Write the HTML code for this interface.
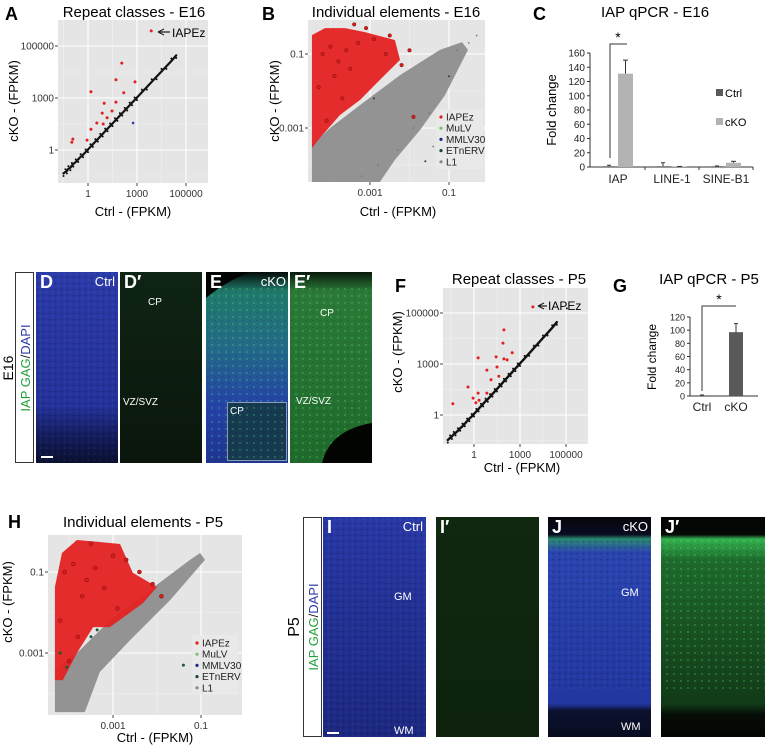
<!DOCTYPE html>
<html><head><meta charset="utf-8">
<style>
html,body{margin:0;padding:0;background:#fff;}
svg{display:block;font-family:"Liberation Sans",sans-serif;}
</style></head>
<body>
<svg id="fig" width="765" height="746" viewBox="0 0 765 746" xmlns="http://www.w3.org/2000/svg">
<defs>
  <linearGradient id="gD" x1="0" y1="0" x2="0" y2="1"><stop offset="0" stop-color="#2a3aa8"/><stop offset="0.7" stop-color="#24329a"/><stop offset="0.85" stop-color="#141e60"/><stop offset="1" stop-color="#0a1030"/></linearGradient>
  <linearGradient id="gDp" x1="0" y1="0" x2="0" y2="1"><stop offset="0" stop-color="#0f2414"/><stop offset="1" stop-color="#0a160c"/></linearGradient>
  <linearGradient id="gE" x1="0" y1="0" x2="0" y2="1"><stop offset="0" stop-color="#050a08"/><stop offset="0.1" stop-color="#1f7a6a"/><stop offset="0.4" stop-color="#236a88"/><stop offset="0.7" stop-color="#2442a8"/><stop offset="1" stop-color="#1f3590"/></linearGradient>
  <linearGradient id="gEp" x1="0" y1="0" x2="0" y2="1"><stop offset="0" stop-color="#0a180c"/><stop offset="0.1" stop-color="#2b7a38"/><stop offset="1" stop-color="#1f6a2c"/></linearGradient>
  <linearGradient id="gI" x1="0" y1="0" x2="0" y2="1"><stop offset="0" stop-color="#2838a6"/><stop offset="1" stop-color="#1c2880"/></linearGradient>
  <linearGradient id="gIp" x1="0" y1="0" x2="0" y2="1"><stop offset="0" stop-color="#10280f"/><stop offset="1" stop-color="#0e220e"/></linearGradient>
  <linearGradient id="gJ" x1="0" y1="0" x2="0" y2="1"><stop offset="0" stop-color="#05060c"/><stop offset="0.08" stop-color="#0a0c20"/><stop offset="0.1" stop-color="#2a8a70"/><stop offset="0.16" stop-color="#2a44b0"/><stop offset="0.85" stop-color="#2236a0"/><stop offset="0.88" stop-color="#0c1230"/><stop offset="1" stop-color="#080c20"/></linearGradient>
  <linearGradient id="gJp" x1="0" y1="0" x2="0" y2="1"><stop offset="0" stop-color="#030503"/><stop offset="0.08" stop-color="#050805"/><stop offset="0.1" stop-color="#34b050"/><stop offset="0.2" stop-color="#1e6a2c"/><stop offset="0.85" stop-color="#123a18"/><stop offset="0.9" stop-color="#060c06"/><stop offset="1" stop-color="#040604"/></linearGradient>
  <pattern id="speck" width="6" height="6" patternUnits="userSpaceOnUse"><circle cx="1.5" cy="1.5" r="0.9" fill="#000" opacity="0.25"/><circle cx="4.5" cy="4" r="0.8" fill="#fff" opacity="0.08"/></pattern>
  <pattern id="gspeck" width="7" height="7" patternUnits="userSpaceOnUse"><circle cx="2" cy="2" r="0.9" fill="#6fff8a" opacity="0.35"/><circle cx="5" cy="5.5" r="0.7" fill="#000" opacity="0.2"/></pattern>
</defs>

<!-- Panel A -->
<g>
  <text x="5" y="20" font-size="18" font-weight="bold">A</text>
  <text x="134" y="17" font-size="15" text-anchor="middle">Repeat classes - E16</text>
  <rect x="58" y="20" width="150" height="163" fill="#e5e5e5"/>
  <g id="aGrid"></g><g id="aMarks"></g>
  <text x="172" y="37" font-size="12">IAPEz</text>
  <path d="M158 32 L170 32 M158 32 L164 29 M158 32 L164 35" stroke="#222" stroke-width="1.2" fill="none"/>
  <text transform="translate(18,101) rotate(-90)" font-size="13" text-anchor="middle">cKO - (FPKM)</text>
  <text x="133" y="216" font-size="13" text-anchor="middle">Ctrl - (FPKM)</text>
</g>

<!-- Panel B -->
<g>
  <text x="262" y="20" font-size="18" font-weight="bold">B</text>
  <text x="396" y="17" font-size="15" text-anchor="middle">Individual elements - E16</text>
  <rect x="308" y="20" width="177" height="162" fill="#e5e5e5"/>
  <g id="bGrid"></g><g id="bMarks"></g>
  <text transform="translate(279,101) rotate(-90)" font-size="13" text-anchor="middle">cKO - (FPKM)</text>
  <text x="398" y="216" font-size="13" text-anchor="middle">Ctrl - (FPKM)</text>
  <g id="bLegend"></g>
</g>

<!-- Panel C -->
<g>
  <text x="533" y="20" font-size="18" font-weight="bold">C</text>
  <text x="655" y="17" font-size="15" text-anchor="middle">IAP qPCR - E16</text>
  <text transform="translate(556,110) rotate(-90)" font-size="13" text-anchor="middle">Fold change</text>
  <g id="cChart"></g>
  <rect x="716" y="89" width="7" height="7" fill="#595959"/>
  <text x="725" y="97" font-size="11">Ctrl</text>
  <rect x="716" y="118" width="7" height="7" fill="#b3b3b3"/>
  <text x="725" y="126" font-size="11">cKO</text>
</g>

<!-- Row 2 images -->
<g>
  <rect x="15.5" y="272.5" width="18" height="190" fill="#fff" stroke="#333"/>
  <text transform="translate(13,368) rotate(-90)" font-size="14" text-anchor="middle">E16</text>
  <text transform="translate(30,368) rotate(-90)" font-size="13" text-anchor="middle"><tspan fill="#22a03a">IAP GAG</tspan><tspan fill="#222">/</tspan><tspan fill="#2a3aa8">DAPI</tspan></text>
  <rect x="36" y="272" width="82" height="191" fill="url(#gD)"/>
  <rect x="36" y="272" width="82" height="191" fill="url(#speck)"/>
  <rect x="41" y="456" width="12" height="2" fill="#fff"/>
  <rect x="120" y="272" width="82" height="191" fill="url(#gDp)"/>
  <rect x="206" y="272" width="82" height="191" fill="url(#gE)"/>
  <rect x="206" y="285" width="82" height="178" fill="url(#gspeck)"/>
  <path d="M206 272 L250 272 Q225 282 206 298 Z" fill="#020403"/>
  <rect x="227.5" y="402.5" width="59" height="58" fill="#163a50" stroke="#8a9ab0"/>
  <rect x="228" y="403" width="58" height="57" fill="url(#gspeck)"/>
  <rect x="290" y="272" width="82" height="191" fill="url(#gEp)"/>
  <rect x="290" y="285" width="82" height="178" fill="url(#gspeck)"/>
  <path d="M322 463 Q330 430 372 423 L372 463 Z" fill="#020402"/>
  <g font-size="18" font-weight="bold" fill="#fff">
    <text x="40" y="288">D</text>
    <text x="124" y="288">D′</text>
    <text x="210" y="288">E</text>
    <text x="294" y="288">E′</text>
  </g>
  <g font-size="13" fill="#fff">
    <text x="115" y="286" text-anchor="end">Ctrl</text>
    <text x="286" y="286" text-anchor="end">cKO</text>
  </g>
  <g font-size="10" fill="#fff">
    <text x="148" y="305">CP</text>
    <text x="123" y="405">VZ/SVZ</text>
    <text x="230" y="414">CP</text>
    <text x="320" y="316">CP</text>
    <text x="296" y="404">VZ/SVZ</text>
  </g>
</g>

<!-- Panel F -->
<g>
  <text x="395" y="292" font-size="18" font-weight="bold">F</text>
  <text x="519" y="284" font-size="15" text-anchor="middle">Repeat classes - P5</text>
  <rect x="443" y="288" width="145" height="156" fill="#e5e5e5"/>
  <g id="fGrid"></g><g id="fMarks"></g>
  <text x="548" y="310" font-size="12">IAPEz</text>
  <path d="M538 306 L547 306 M538 306 L544 303 M538 306 L544 309" stroke="#222" stroke-width="1.2" fill="none"/>
  <text transform="translate(402,352) rotate(-90)" font-size="13" text-anchor="middle">cKO - (FPKM)</text>
  <text x="522" y="472" font-size="13" text-anchor="middle">Ctrl - (FPKM)</text>
</g>

<!-- Panel G -->
<g>
  <text x="613" y="292" font-size="18" font-weight="bold">G</text>
  <text x="709" y="284" font-size="15" text-anchor="middle">IAP qPCR - P5</text>
  <text transform="translate(656,357) rotate(-90)" font-size="12" text-anchor="middle">Fold change</text>
  <g id="gChart"></g>
</g>

<!-- Panel H -->
<g>
  <text x="8" y="528" font-size="18" font-weight="bold">H</text>
  <text x="143" y="527" font-size="15" text-anchor="middle">Individual elements - P5</text>
  <rect x="48" y="535" width="194" height="180" fill="#e5e5e5"/>
  <g id="hGrid"></g><g id="hMarks"></g>
  <text transform="translate(12,602) rotate(-90)" font-size="13" text-anchor="middle">cKO - (FPKM)</text>
  <text x="155" y="742" font-size="13" text-anchor="middle">Ctrl - (FPKM)</text>
  <g id="hLegend"></g>
</g>

<!-- Row 3 images -->
<g>
  <rect x="303.5" y="517.5" width="18" height="219" fill="#fff" stroke="#333"/>
  <text transform="translate(299,627) rotate(-90)" font-size="16" text-anchor="middle">P5</text>
  <text transform="translate(318,627) rotate(-90)" font-size="13" text-anchor="middle"><tspan fill="#22a03a">IAP GAG</tspan><tspan fill="#222">/</tspan><tspan fill="#2a3aa8">DAPI</tspan></text>
  <rect x="323" y="517" width="103" height="220" fill="url(#gI)"/>
  <rect x="323" y="517" width="103" height="220" fill="url(#speck)"/>
  <rect x="327" y="732" width="12" height="2" fill="#fff"/>
  <rect x="436" y="517" width="103" height="220" fill="url(#gIp)"/>
  <rect x="548" y="517" width="103" height="220" fill="url(#gJ)"/>
  <rect x="548" y="540" width="103" height="150" fill="url(#speck)"/>
  <rect x="661" y="517" width="104" height="220" fill="url(#gJp)"/>
  <rect x="661" y="540" width="104" height="150" fill="url(#gspeck)"/>
  <g font-size="18" font-weight="bold" fill="#fff">
    <text x="327" y="533">I</text>
    <text x="440" y="533">I′</text>
    <text x="552" y="533">J</text>
    <text x="665" y="533">J′</text>
  </g>
  <g font-size="13" fill="#fff">
    <text x="423" y="531" text-anchor="end">Ctrl</text>
    <text x="648" y="531" text-anchor="end">cKO</text>
  </g>
  <g font-size="11" fill="#fff">
    <text x="394" y="600">GM</text>
    <text x="394" y="734">WM</text>
    <text x="621" y="596">GM</text>
    <text x="621" y="730">WM</text>
  </g>
</g>
</svg>

<script>
// ---------- data: Panel A (axis positions in tick units: 0="1", 1="1000", 2="100000") ----------
const aTickLabels = ["1","1000","100000"];
const aBlackX = [-0.5,-0.46,-0.43,-0.4,-0.36,-0.33,-0.3,-0.25,-0.2,-0.15,-0.1,-0.05,0,0.05,0.1,0.15,0.2,0.25,0.3,0.35,0.4,0.45,0.5,0.55,0.6,0.65,0.7,0.75,0.8,0.85,0.9,0.95,1.0,1.1,1.2,1.3,1.4,1.5,1.6,1.7,1.8];
const aBlackY = [-0.45,-0.42,-0.40,-0.36,-0.34,-0.30,-0.27,-0.23,-0.18,-0.13,-0.09,-0.04,0.01,0.06,0.11,0.16,0.21,0.26,0.31,0.36,0.41,0.46,0.51,0.56,0.61,0.66,0.71,0.76,0.81,0.86,0.91,0.96,1.01,1.11,1.21,1.31,1.41,1.51,1.61,1.71,1.82];
const aRedX = [0.69,0.57,0.96,0.06,0.33,0.73,0.57,0.49,0.29,0.18,0.06,-0.31,-0.33,-0.02,0.31,0.39,1.29];
const aRedY = [1.67,1.35,1.31,1.12,0.90,1.10,0.92,0.75,0.71,0.52,0.40,0.21,0.15,0.19,0.50,0.62,2.29];
const aBlueX = [0.92];
const aBlueY = [0.52];
// ---------- data: Panel F ----------
const fTickLabels = ["1","1000","100000"];
const fBlackX = [-0.57,-0.52,-0.48,-0.44,-0.4,-0.35,-0.3,-0.25,-0.2,-0.15,-0.1,-0.05,0,0.05,0.1,0.15,0.2,0.25,0.3,0.35,0.4,0.45,0.5,0.55,0.6,0.65,0.7,0.75,0.8,0.85,0.9,0.95,1.0,1.1,1.2,1.3,1.4,1.5,1.6,1.7,1.8,2.02];
const fBlackY = [-0.49,-0.45,-0.42,-0.38,-0.35,-0.31,-0.26,-0.22,-0.17,-0.12,-0.07,-0.03,0.02,0.07,0.12,0.17,0.22,0.27,0.31,0.36,0.41,0.46,0.51,0.56,0.61,0.66,0.71,0.76,0.81,0.86,0.91,0.96,1.01,1.11,1.21,1.31,1.41,1.51,1.61,1.71,1.82,2.04];
const fRedX = [0.65,0.63,0.83,0.48,0.09,0.65,0.72,0.28,0.5,0.37,0.54,-0.13,-0.02,0.09,0.28,-0.46,0.04,0.11,1.28];
const fRedY = [1.67,1.41,1.22,1.14,1.12,1.10,1.08,0.88,0.94,0.69,0.76,0.55,0.33,0.43,0.43,0.22,0.24,0.29,2.12];
// ---------- data: Panel B (log10 FPKM) ----------
const bTickVals = [-3,-1];
const bTickLabels = ["0.001","0.1"];
const bGrayHullX = [-4.47,-4.47,-4.01,-3.25,-2.24,-1.23,-0.67,-0.52,-1.10,-1.73,-2.37,-2.75];
const bGrayHullY = [-4.46,-3.46,-3.0,-2.38,-1.57,-0.89,-0.68,-0.89,-2.11,-3.05,-3.86,-4.46];
const bRedHullX = [-4.47,-4.47,-4.14,-3.63,-3.13,-2.37,-2.24,-2.75,-3.25,-3.76,-4.27];
const bRedHullY = [-3.54,-0.49,-0.30,-0.30,-0.41,-0.62,-1.16,-1.70,-2.24,-2.65,-3.27];
const bRedX = [-4.2,-4.0,-3.8,-3.6,-3.9,-4.3,-3.5,-3.3,-2.9,-2.6,-2.2,-2.0,-2.5,-3.1,-3.7,-4.1,-3.4,-1.9];
const bRedY = [-1.0,-0.8,-1.2,-0.9,-1.6,-1.9,-1.4,-0.7,-0.6,-1.0,-1.3,-0.9,-0.5,-0.3,-2.2,-2.8,-0.2,-2.7];
const bGrayX = [-0.3,-0.5,-0.8,-1.5,-1.9,-2.3,-1.4,-1.0,-2.8,-3.2];
const bGrayY = [-0.5,-0.7,-0.9,-2.6,-3.0,-3.6,-3.5,-2.6,-4.0,-4.3];
const bGreenX = [-1.0,-1.6,-2.9];
const bGreenY = [-1.6,-3.9,-2.2];
// ---------- data: Panel H ----------
const hTickVals = [-3,-1];
const hTickLabels = ["0.001","0.1"];
const hGrayHullX = [-4.32,-4.32,-3.75,-3.07,-2.16,-1.25,-1.02,-0.91,-1.70,-2.61,-3.30,-3.64];
const hGrayHullY = [-4.46,-3.42,-2.93,-2.19,-1.44,-0.70,-0.53,-0.70,-1.69,-2.68,-3.47,-4.46];
const hRedHullX = [-4.32,-4.32,-4.16,-3.82,-3.30,-2.84,-2.55,-2.00,-2.32,-3.07,-3.45,-3.82,-4.14];
const hRedHullY = [-3.67,-1.37,-0.53,-0.21,-0.26,-0.31,-1.02,-1.37,-1.77,-2.36,-2.36,-3.0,-3.67];
const hRedX = [-4.1,-3.9,-3.6,-3.4,-3.7,-4.2,-3.2,-3.0,-2.7,-2.4,-2.1,-1.9,-3.5,-2.9,-3.8,-4.0];
const hRedY = [-1.0,-0.8,-1.2,-0.9,-1.6,-2.2,-1.4,-0.6,-0.7,-1.0,-1.3,-1.6,-0.3,-1.9,-2.6,-3.2];
const hGreenX = [-3.36,-4.2,-4.05,-3.5,-1.4];
const hGreenY = [-2.43,-3.0,-3.35,-2.6,-3.3];
// ---------- data: Panel C ----------
const cCategories = ["IAP","LINE-1","SINE-B1"];
const cCtrl = [1,1,1];
const cCtrlErr = [2.5,6,1.5];
const cCko = [131,0.5,6];
const cCkoErr = [150,0.8,8];
const cTicks = [0,20,40,60,80,100,120,140,160];
// ---------- data: Panel G ----------
const gCategories = ["Ctrl","cKO"];
const gValues = [1,97];
const gErr = [1.5,110];
const gTicks = [0,20,40,60,80,100,120];

const NS="http://www.w3.org/2000/svg";
function el(tag, attrs, parent){const e=document.createElementNS(NS,tag);for(const k in attrs)e.setAttribute(k,attrs[k]);parent.appendChild(e);return e;}
function lin(d0,d1,p0,p1){return v=>p0+(v-d0)*(p1-p0)/(d1-d0);}

function scatterFrame(gridId, x, y, box, tickVals, tickLabels, minorVals){
  const g=document.getElementById(gridId);
  minorVals.forEach(v=>{
    const px=x(v),py=y(v);
    if(px>box.x0&&px<box.x1){const l=el('line',{x1:px,x2:px,y1:box.y0,y2:box.y1,stroke:'#f2f2f2','stroke-width':0.6},g);}
    if(py>box.y0&&py<box.y1){const l=el('line',{x1:box.x0,x2:box.x1,y1:py,y2:py,stroke:'#f2f2f2','stroke-width':0.6},g);}
  });
  tickVals.forEach((v,i)=>{
    const px=x(v),py=y(v);
    let l=el('line',{x1:px,x2:px,y1:box.y0,y2:box.y1,stroke:'#fff','stroke-width':1.1},g);
    
    l=el('line',{x1:box.x0,x2:box.x1,y1:py,y2:py,stroke:'#fff','stroke-width':1.1},g);
    
    el('line',{x1:px,x2:px,y1:box.y1,y2:box.y1+3,stroke:'#444'},g);
    el('line',{x1:box.x0-3,x2:box.x0,y1:py,y2:py,stroke:'#444'},g);
    let t=el('text',{x:px,y:box.y1+14,'font-size':10,'text-anchor':'middle',fill:'#333'},g);t.textContent=tickLabels[i];
    
    t=el('text',{x:box.x0-4,y:py+3.5,'font-size':10,'text-anchor':'end',fill:'#333'},g);t.textContent=tickLabels[i];
    
  });
}
function dots(gid,xs,ys,x,y,r,fill,name,stroke){
  const g=document.getElementById(gid);
  xs.forEach((v,i)=>{const c=el('circle',{cx:x(v),cy:y(ys[i]),r:r,fill:fill},g);if(stroke){c.setAttribute('stroke',stroke);c.setAttribute('stroke-width',0.5);}
    
    });
}
function poly(gid,xs,ys,x,y,fill,op,name){
  const g=document.getElementById(gid);
  const pts=xs.map((v,i)=>x(v)+','+y(ys[i])).join(' ');
  const p=el('polygon',{points:pts,fill:fill,opacity:op},g);
  
  
}
function line(gid,xs,ys,x,y,w,name){
  const g=document.getElementById(gid);
  const p=el('polyline',{points:xs.map((v,i)=>x(v)+','+y(ys[i])).join(' '),fill:'none',stroke:'#111','stroke-width':w,'stroke-linecap':'round'},g);
  
  
}

// Panel A
(function(){
  const x=lin(0,1,88,137), y=lin(0,1,150,98);
  scatterFrame('aGrid',x,y,{x0:58,x1:208,y0:20,y1:183},[0,1,2],aTickLabels,[-0.5,0.5,1.5,2.5]);
  line('aMarks',aBlackX,aBlackY,x,y,2.2,'ctrl-line-black');
  dots('aMarks',aBlackX,aBlackY.map((v,i)=>v+(i%2?0.05:-0.05)),x,y,1,'#111','point-other');
  dots('aMarks',aRedX,aRedY,x,y,1.5,'#e02020','point-iapez');
  dots('aMarks',aBlueX,aBlueY,x,y,1.3,'#3040a0','point-mmlv30');
})();
// Panel F
(function(){
  const x=lin(0,1,474,520), y=lin(0,1,415,364);
  scatterFrame('fGrid',x,y,{x0:443,x1:588,y0:288,y1:444},[0,1,2],fTickLabels,[-0.5,0.5,1.5,2.5]);
  line('fMarks',fBlackX.slice(0,-1),fBlackY.slice(0,-1),x,y,2.4,'ctrl-line-black');
  dots('fMarks',fBlackX,fBlackY.map((v,i)=>v+(i%2?0.05:-0.05)),x,y,1,'#111','point-other');
  dots('fMarks',fRedX,fRedY,x,y,1.5,'#e02020','point-iapez');
})();
// Panel B
(function(){
  const x=lin(-3,-1,370,449), y=lin(-3,-1,128,54);
  scatterFrame('bGrid',x,y,{x0:308,x1:485,y0:20,y1:182},bTickVals,bTickLabels,[-4,-2,0]);
  poly('bMarks',bGrayHullX,bGrayHullY,x,y,'#8a8a8a',0.9,'l1-cloud');
  dots('bMarks',bGrayX,bGrayY,x,y,0.9,'#777','point-l1');
  poly('bMarks',bRedHullX,bRedHullY,x,y,'#e42222',0.95,'iapez-cloud');
  dots('bMarks',bRedX,bRedY,x,y,1.8,'#d81c1c','point-iapez','#7a1010');
  dots('bMarks',bGreenX,bGreenY,x,y,1,'#1e4a2e','point-etnerv');
})();
// Panel H
(function(){
  const x=lin(-3,-1,113,201), y=lin(-3,-1,653,572);
  scatterFrame('hGrid',x,y,{x0:48,x1:242,y0:535,y1:715},hTickVals,hTickLabels,[-4,-2,0]);
  poly('hMarks',hGrayHullX,hGrayHullY,x,y,'#8a8a8a',0.9,'l1-cloud');
  poly('hMarks',hRedHullX,hRedHullY,x,y,'#e42222',0.95,'iapez-cloud');
  dots('hMarks',hRedX,hRedY,x,y,2,'#d81c1c','point-iapez','#7a1010');
  dots('hMarks',hGreenX,hGreenY,x,y,1.5,'#1e5a30','point-etnerv');
})();
// Legends for B and H
function legend(gid,x0,y0,step,w,fs){
  const g=document.getElementById(gid);
  const names=["IAPEz","MuLV","MMLV30","ETnERV","L1"], cols=["#e02020","#7cc070","#1c2a80","#1e4a2e","#888"];
  el('rect',{x:x0-5,y:y0-8,width:w,height:step*5+4,fill:'#e9e9e9'},g);
  names.forEach((n,i)=>{
    el('circle',{cx:x0,cy:y0+i*step,r:1.6,fill:cols[i]},g);
    const t=el('text',{x:x0+5,y:y0+i*step+3.5,'font-size':fs,fill:'#222'},g);t.textContent=n;
    
    
  });
}
legend('bLegend',441,117,11.2,47,10);
legend('hLegend',197,643,11.2,46,10);

// Bar chart helper
function bars(gid,opt){
  const g=document.getElementById(gid);
  const y=lin(0,opt.ymax,opt.y0,opt.y1);
  el('line',{x1:opt.ax,x2:opt.ax,y1:y(opt.ymax),y2:opt.y0,stroke:'#333'},g);
  el('line',{x1:opt.ax,x2:opt.axEnd,y1:opt.y0,y2:opt.y0,stroke:'#333'},g);
  opt.ticks.forEach(v=>{
    el('line',{x1:opt.ax-3,x2:opt.ax,y1:y(v),y2:y(v),stroke:'#333'},g);
    const t=el('text',{x:opt.ax-5,y:y(v)+3.5,'font-size':opt.fs,'text-anchor':'end',fill:'#222'},g);t.textContent=v;
    
    
  });
  return y;
}
// Panel C
(function(){
  const y=bars('cChart',{ymax:160,y0:167,y1:53,ax:590,axEnd:753,ticks:cTicks,fs:10});
  const g=document.getElementById('cChart');
  const cx=i=>618+i*54;
  cCategories.forEach((c,i)=>{
    const t=el('text',{x:cx(i),y:183,'font-size':12,'text-anchor':'middle',fill:'#222'},g);t.textContent=c;
    
    
    el('line',{x1:cx(i)+27,x2:cx(i)+27,y1:167,y2:170,stroke:'#333'},g);
    const r1=el('rect',{x:cx(i)-15,y:y(cCtrl[i]),width:12,height:167-y(cCtrl[i]),fill:'#595959'},g);
    
    
    el('line',{x1:cx(i)-9,x2:cx(i)-9,y1:y(cCtrl[i]),y2:y(cCtrlErr[i]),stroke:'#333'},g);
    el('line',{x1:cx(i)-11,x2:cx(i)-7,y1:y(cCtrlErr[i]),y2:y(cCtrlErr[i]),stroke:'#333'},g);
    const r2=el('rect',{x:cx(i),y:y(cCko[i]),width:15,height:167-y(cCko[i]),fill:'#b3b3b3'},g);
    
    
    el('line',{x1:cx(i)+7.5,x2:cx(i)+7.5,y1:y(cCko[i]),y2:y(cCkoErr[i]),stroke:'#333'},g);
    el('line',{x1:cx(i)+5,x2:cx(i)+10,y1:y(cCkoErr[i]),y2:y(cCkoErr[i]),stroke:'#333'},g);
  });
  el('path',{d:`M${cx(0)-8} 158 L${cx(0)-8} 44 L${cx(0)+9} 44`,stroke:'#333',fill:'none'},g);
  const s=el('text',{x:cx(0),y:42,'font-size':14,'text-anchor':'middle'},g);s.textContent='*';
  
  
})();
// Panel G
(function(){
  const y=bars('gChart',{ymax:120,y0:396,y1:317,ax:690,axEnd:758,ticks:gTicks,fs:9});
  const g=document.getElementById('gChart');
  const cx=i=>702+i*34;
  gCategories.forEach((c,i)=>{
    const t=el('text',{x:cx(i),y:411,'font-size':12,'text-anchor':'middle',fill:'#222'},g);t.textContent=c;
    
    
    const r=el('rect',{x:cx(i)-7,y:y(gValues[i]),width:14,height:396-y(gValues[i]),fill:'#595959'},g);
    
    
    el('line',{x1:cx(i),x2:cx(i),y1:y(gValues[i]),y2:y(gErr[i]),stroke:'#333'},g);
    el('line',{x1:cx(i)-2,x2:cx(i)+2,y1:y(gErr[i]),y2:y(gErr[i]),stroke:'#333'},g);
  });
  el('path',{d:`M${cx(0)} 391 L${cx(0)} 306 L${cx(1)} 306`,stroke:'#333',fill:'none'},g);
  const s=el('text',{x:(cx(0)+cx(1))/2,y:304,'font-size':14,'text-anchor':'middle'},g);s.textContent='*';
  
  
})();
</script>
</body></html>
